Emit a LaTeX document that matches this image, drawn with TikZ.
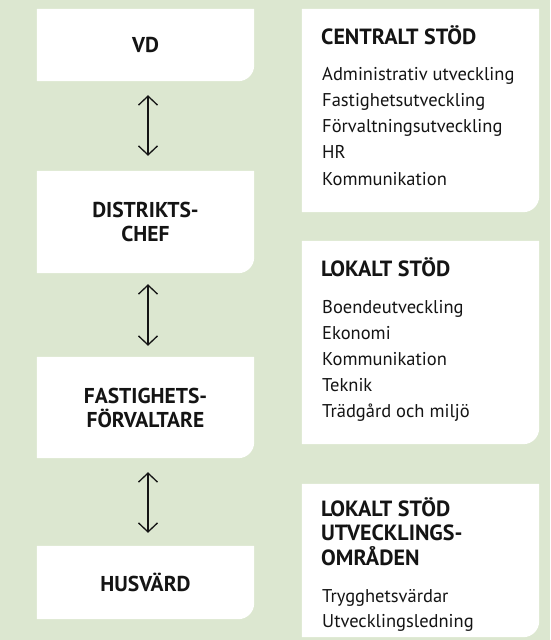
\documentclass[tikz,border=0pt]{standalone}
\usepackage{fontspec}
\setmainfont{PT Sans}
\usetikzlibrary{arrows.meta,backgrounds}
\definecolor{bggreen}{RGB}{220,231,208}
\definecolor{ink}{RGB}{20,20,20}
\tikzset{
  box/.style={inner sep=0pt, draw=none},
  leftbox/.style={box, minimum width=217pt, text width=200pt, align=center,
    font=\fontsize{21.5}{24}\selectfont\bfseries, text=ink},
  rightbox/.style={box, minimum width=237pt},
  head/.style={anchor=base west, inner sep=0pt, font=\fontsize{22}{24}\selectfont\bfseries, text=ink},
  item/.style={anchor=base west, inner sep=0pt, font=\fontsize{18.5}{20}\selectfont, text=ink},
  link/.style={draw=ink, line width=1.3pt, {Straight Barb[length=9pt,width=19pt]}-{Straight Barb[length=9pt,width=19pt]}}
}
\newcommand{\cardfill}[1]{%
  \fill[white] (#1.north west) -- (#1.north east) -- ([yshift=16pt]#1.south east)
    arc[start angle=0,end angle=-90,radius=16pt] -- (#1.south west) -- cycle;}
\begin{document}
\begin{tikzpicture}[x=1pt,y=-1pt]
\useasboundingbox (0,0) rectangle (550,640);
% left column
\node[leftbox, minimum height=72pt] (vd) at (145.5,45) {VD};
\node[leftbox, minimum height=102pt] (dc) at (145.5,222) {DISTRIKTS-\\CHEF};
\node[leftbox, minimum height=101pt] (ff) at (145.5,407.5) {FASTIGHETS-\\FÖRVALTARE};
\node[leftbox, minimum height=73pt] (hv) at (145.5,582.5) {HUSVÄRD};
% right column
\node[rightbox, minimum height=203pt] (cs) at (420.5,110.5) {};
\node[rightbox, minimum height=203pt] (ls) at (420.5,342.5) {};
\node[rightbox, minimum height=153pt] (lu) at (420.5,560.5) {};
% texts
\node[head] (csh) at (321,44) {CENTRALT STÖD};
\node[item] (cs1) at (322,80) {Administrativ utveckling};
\node[item] (cs2) at (322,106.3) {Fastighetsutveckling};
\node[item] (cs3) at (322,132.5) {Förvaltningsutveckling};
\node[item] (cs4) at (322,158.8) {HR};
\node[item] (cs5) at (322,185) {Kommunikation};
\node[head] (lsh) at (321,276) {LOKALT STÖD};
\node[item] (ls1) at (322,313) {Boendeutveckling};
\node[item] (ls2) at (322,339) {Ekonomi};
\node[item] (ls3) at (322,365) {Kommunikation};
\node[item] (ls4) at (322,391) {Teknik};
\node[item] (ls5) at (322,417) {Trädgård och miljö};
\node[head] (luh1) at (321,516) {LOKALT STÖD};
\node[head] (luh2) at (321,540.5) {UTVECKLINGS-};
\node[head] (luh3) at (321,565) {OMRÅDEN};
\node[item] (lu1) at (322,602) {Trygghetsvärdar};
\node[item] (lu2) at (322,627) {Utvecklingsledning};
% connectors
\draw[link, shorten <=14pt, shorten >=15pt] ([xshift=2.5pt]vd.south) -- ([xshift=2.5pt]dc.north);
\draw[link, shorten <=11pt, shorten >=11pt] ([xshift=2.5pt]dc.south) -- ([xshift=2.5pt]ff.north);
\draw[link, shorten <=14pt, shorten >=13pt] ([xshift=2.5pt]ff.south) -- ([xshift=2.5pt]hv.north);
\begin{scope}[on background layer]
  \fill[bggreen] (0,0) rectangle (550,640);
  \foreach \n in {vd,dc,ff,hv,cs,ls,lu} {\cardfill{\n}}
\end{scope}
\end{tikzpicture}
\end{document}
